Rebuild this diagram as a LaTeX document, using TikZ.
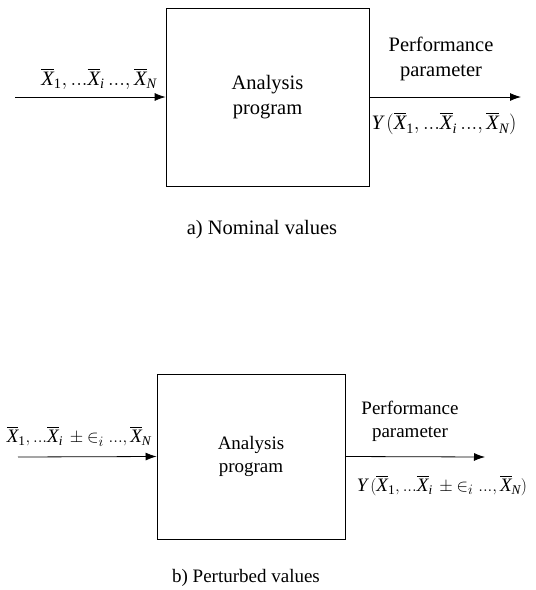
\documentclass[tikz,border=0pt]{standalone}
\usepackage{amsmath}
\usepackage{fontspec}
\setmainfont{Liberation Serif}
\usetikzlibrary{positioning,arrows.meta}
\newcommand{\xb}[1]{\overline{\text{\itshape X}}_{\text{#1}}\,}

\begin{document}
\begin{tikzpicture}[x=1pt,y=-1pt,line width=0.8pt,
    progbox/.style={draw,rectangle,align=center},
    flow/.style={-{Latex[length=11pt,width=8pt]}},
    lbl/.style={inner sep=0pt,align=center}]
          \useasboundingbox (0,0) rectangle (536,590);
          % a) nominal values
          \node[progbox,minimum width=203pt,minimum height=178pt,font=\fontsize{20.5}{25}\selectfont] (progA) at (267.5,97) {Analysis\\program};
          \coordinate (inA) at (15,97);
          \coordinate (outA) at (521,97);
          \draw[flow] (inA)--(progA.west);
          \draw[flow] (progA.east)--(outA);
          \node[lbl,font=\fontsize{20.5}{25}\selectfont,above left=7pt and 5pt of progA.west] (xinA) {$\xb{1}\!,...\xb{\itshape i}...,\xb{\itshape N}$};
          \node[lbl,font=\fontsize{20.5}{25}\selectfont] (perfA) at (441,59) {Performance\\parameter};
          \node[lbl,font=\fontsize{20.5}{25}\selectfont,anchor=north] (yA) at (444,112) {$\text{\itshape Y}\,(\xb{1}\!,...\xb{\itshape i}...,\xb{\itshape N}\!)$};
          \node[lbl,font=\fontsize{20.5}{25}\selectfont] (capA) at (262,230) {a) Nominal values};
          % b) perturbed values
          \node[progbox,minimum width=188pt,minimum height=165pt,font=\fontsize{19}{23}\selectfont] (progB) at (251,456.5) {Analysis\\program};
          \coordinate (inB) at (18,457);
          \coordinate (outB) at (485,457);
          \draw[flow] (inB)--(progB.west);
          \draw[flow] (progB.east)--(outB);
          \node[lbl,font=\fontsize{19}{23}\selectfont,above left=10pt and 2pt of progB.west] (xinB) {$\xb{1}\!,...\xb{\itshape i}\pm{\in}_i\;...,\xb{\itshape N}$};
          \node[lbl,font=\fontsize{19}{23}\selectfont] (perfB) at (410,421) {Performance\\parameter};
          \node[lbl,font=\fontsize{19}{23}\selectfont,anchor=north] (yB) at (442,475) {$\text{\itshape Y}\,(\xb{1}\!,...\xb{\itshape i}\pm{\in}_i\;...,\xb{\itshape N}\!)$};
          \node[lbl,font=\fontsize{19}{23}\selectfont] (capB) at (246,578) {b) Perturbed values};
        \end{tikzpicture}
\end{document}
